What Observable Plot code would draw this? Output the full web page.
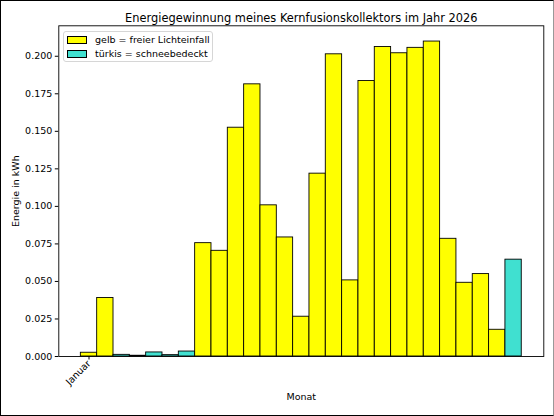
<!DOCTYPE html>
<html>
<head>
<meta charset="utf-8">
<script src="https://cdn.jsdelivr.net/npm/d3@7"></script>
<script src="https://cdn.jsdelivr.net/npm/@observablehq/plot@0.6"></script>
<style>
  html, body { margin: 0; padding: 0; background: #fff; }
  #page { position: relative; width: 554px; height: 416px; overflow: hidden; font-family: "DejaVu Sans", sans-serif; }
  #page svg { position: absolute; left: 0; top: 0; }
  #border { position: absolute; left: 0; top: 0; width: 552px; height: 414px; border: 1.5px solid #000; border-right-color: #999; pointer-events: none; }
  #legend { position: absolute; left: 63px; top: 30.5px; width: 150px; height: 31.5px; box-sizing: border-box;
            border: 1px solid #d6d6d6; border-radius: 3px; background: rgba(255,255,255,0.8); font-size: 9.5px; }
  .item { position: absolute; left: 3px; display: flex; align-items: center; white-space: nowrap; }
  .sw { width: 18px; height: 6px; border: 1px solid #000; margin-right: 8px; }
</style>
</head>
<body>
<div id="page">
  <div id="chart"></div>
  <div id="legend"></div>
  <div id="border"></div>
</div>
<script>
// ---------- data ----------
const titleText = "Energiegewinnung meines Kernfusionskollektors im Jahr 2026";
const energy = [
  0.0025, 0.0390, 0.0011, 0.0005, 0.0027, 0.0009, 0.0033,
  0.0755, 0.0704, 0.1524, 0.1813, 0.1007, 0.0793, 0.0265,
  0.1218, 0.2013, 0.0507, 0.1835, 0.2062, 0.2020, 0.2056,
  0.2098, 0.0784, 0.0491, 0.0549, 0.0178, 0.0645
];
const cover = [
  "gelb", "gelb", "türkis", "türkis", "türkis", "türkis", "türkis",
  "gelb", "gelb", "gelb", "gelb", "gelb", "gelb", "gelb",
  "gelb", "gelb", "gelb", "gelb", "gelb", "gelb", "gelb",
  "gelb", "gelb", "gelb", "gelb", "gelb", "türkis"
];
const tickIndex = [0];
const tickLabels = ["Januar"];
const legendKeys = ["gelb", "türkis"];
const legendLabels = ["gelb = freier Lichteinfall", "türkis = schneebedeckt"];
const colours = ["#ffff00", "#40e0d0"];

const rows = energy.map((v, i) => ({i, v, c: cover[i]}));
const n = energy.length;
const pad = n * 0.05; // matplotlib default margins

const chart = Plot.plot({
  width: 554, height: 416,
  marginLeft: 58.3, marginRight: 10.7, marginTop: 25.3, marginBottom: 60,
  style: {fontFamily: "DejaVu Sans", fontSize: "9.5px", color: "#000", background: "transparent"},
  x: {domain: [-pad, n + pad]},
  y: {domain: [0, d3.max(energy) * 1.05]},
  color: {domain: legendKeys, range: colours},
  marks: [
    Plot.rect(rows, {
      x1: "i", x2: d => d.i + 1, y1: 0, y2: "v",
      fill: "c", stroke: "#000", strokeWidth: 0.9
    }),
    Plot.frame({stroke: "#000", strokeWidth: 0.9}),
    Plot.axisY({
      ticks: d3.range(0, 0.2001, 0.025), tickFormat: ".3f",
      tickSize: 3.5, tickPadding: 3,
      label: "Energie in kWh", labelAnchor: "center", labelArrow: "none", labelOffset: 47
    }),
    Plot.axisX({
      ticks: tickIndex.map(i => i + 0.5),
      tickFormat: (d, k) => tickLabels[k],
      tickRotate: -45, tickSize: 3.5, tickPadding: 2,
      label: "Monat", labelAnchor: "center", labelArrow: "none", labelOffset: 43
    }),
    Plot.text([titleText], {
      text: d => d, frameAnchor: "top", dy: -11.5, fontSize: 11.4
    })
  ]
});
document.getElementById("chart").appendChild(chart);

// legend (matplotlib-style box, upper left)
const legend = document.getElementById("legend");
legendLabels.forEach((lab, k) => {
  const item = document.createElement("div");
  item.className = "item";
  item.style.top = (k === 0 ? 2.5 : 16.5) + "px";
  item.innerHTML = `<span class="sw" style="background:${colours[k]}"></span><span>${lab}</span>`;
  legend.appendChild(item);
});
</script>
</body>
</html>
